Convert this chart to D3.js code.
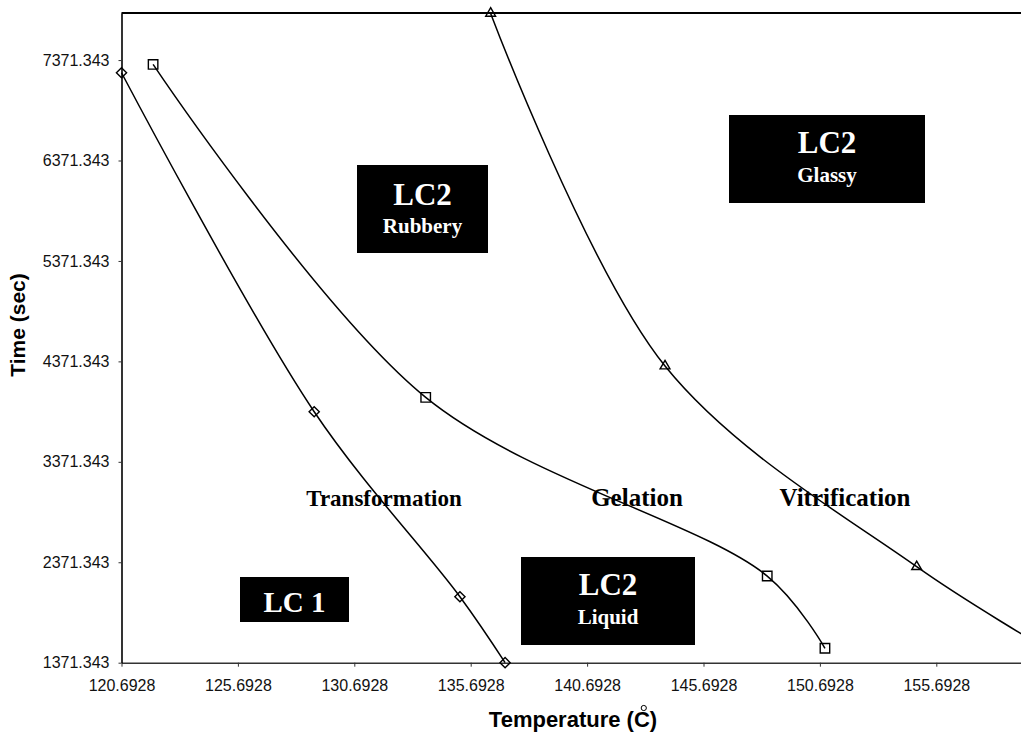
<!DOCTYPE html>
<html>
<head>
<meta charset="utf-8">
<script src="https://cdn.jsdelivr.net/npm/d3@7"></script>
<style>
  html, body { margin: 0; padding: 0; background: #fff; overflow: hidden; }
  svg { display: block; }
</style>
</head>
<body>
<svg id="chart" width="1021" height="735"></svg>
<script>
// Axis tick values
const tempTicks = [120.6928, 125.6928, 130.6928, 135.6928, 140.6928, 145.6928, 150.6928, 155.6928];
const timeTicks = [1371.343, 2371.343, 3371.343, 4371.343, 5371.343, 6371.343, 7371.343];

// Transformation boundary (LC 1 -> LC2)
const transformationTemp = [120.6928, 128.97, 135.23, 137.17];
const transformationTime = [7245, 3870, 2028, 1371.343];

// Gelation boundary
const gelationTemp = [122.05, 133.76, 148.43, 150.91];
const gelationTime = [7328, 4013, 2234, 1515];

// Vitrification boundary
const vitrificationTemp = [136.55, 144.04, 154.85, 160.5];
const vitrificationTime = [7836, 4325, 2327, 1500];

// Region and curve labels
const regionBoxes = [
  { title: "LC2", sub: "Rubbery" },
  { title: "LC2", sub: "Glassy" },
  { title: "LC2", sub: "Liquid" },
  { title: "LC 1", sub: null }
];
const curveNames = ["Transformation", "Gelation", "Vitrification"];

const svg = d3.select("#chart");
const W = 1021, H = 735;
const plotLeft = 121.5, plotTop = 13, plotBottom = 662.7;

const x = d3.scaleLinear().domain([120.6928, 160.6928]).range([plotLeft, 1052.7]);
const y = d3.scaleLinear().domain([1371.343, 7840]).range([plotBottom, plotTop]);

const sansFont = "'Liberation Sans', Arial, Helvetica, sans-serif";
const serifFont = "'Liberation Serif', 'Times New Roman', Times, serif";

// Plot frame: top border
svg.append("line")
  .attr("x1", plotLeft).attr("x2", W)
  .attr("y1", plotTop).attr("y2", plotTop)
  .attr("stroke", "#000").attr("stroke-width", 2);

// Bottom axis
const xAxis = svg.append("g")
  .attr("transform", `translate(0,${plotBottom})`)
  .call(d3.axisBottom(x).tickValues(tempTicks).tickFormat(d3.format(".4f"))
    .tickSizeInner(4).tickSizeOuter(0).tickPadding(13));
xAxis.select(".domain").attr("stroke", "#333").attr("stroke-width", 1.6);
xAxis.selectAll(".tick line").attr("stroke", "#333");
xAxis.selectAll(".tick text")
  .attr("font-family", sansFont).attr("font-size", 16).attr("fill", "#111");

// Left axis
const yAxis = svg.append("g")
  .attr("transform", `translate(${plotLeft},0)`)
  .call(d3.axisLeft(y).tickValues(timeTicks).tickFormat(d3.format(".3f"))
    .tickSizeInner(3).tickSizeOuter(0).tickPadding(9));
yAxis.select(".domain").attr("stroke", "#000").attr("stroke-width", 1.6);
yAxis.selectAll(".tick line").attr("stroke", "#333");
yAxis.selectAll(".tick text")
  .attr("font-family", sansFont).attr("font-size", 16).attr("fill", "#111");

// Axis titles
svg.append("text")
  .attr("transform", `translate(25,${325}) rotate(-90)`)
  .attr("text-anchor", "middle")
  .attr("font-family", sansFont).attr("font-weight", "bold").attr("font-size", 21)
  .text("Time (sec)");

const xTitle = svg.append("text")
  .attr("x", 573).attr("y", 727)
  .attr("text-anchor", "middle")
  .attr("font-family", sansFont).attr("font-weight", "bold").attr("font-size", 22)
  .text("Temperature (C)");
// degree ring over the C
const tNode = xTitle.node();
const cIdx = tNode.textContent.indexOf("C");
const ext = tNode.getExtentOfChar(cIdx);
svg.append("circle")
  .attr("cx", ext.x + ext.width * 0.62).attr("cy", 708)
  .attr("r", 2.6).attr("fill", "none").attr("stroke", "#000").attr("stroke-width", 1);

// Boundary curves
const series = [
  { temp: transformationTemp, time: transformationTime, marker: "diamond" },
  { temp: gelationTemp, time: gelationTime, marker: "square" },
  { temp: vitrificationTemp, time: vitrificationTime, marker: "triangle" }
];

const line = d3.line()
  .x(d => x(d[0])).y(d => y(d[1]))
  .curve(d3.curveCatmullRom.alpha(0.5));

const symbols = {
  diamond: d3.symbol().type(d3.symbolSquare).size(52),
  square: d3.symbol().type(d3.symbolSquare).size(90),
  triangle: d3.symbol().type(d3.symbolTriangle).size(42)
};

series.forEach(s => {
  const pts = s.temp.map((t, i) => [t, s.time[i]]);
  svg.append("path")
    .attr("d", line(pts))
    .attr("fill", "none").attr("stroke", "#000").attr("stroke-width", 1.5);
  svg.selectAll(null).data(pts).enter().append("path")
    .attr("d", symbols[s.marker]())
    .attr("transform", d => `translate(${x(d[0])},${y(d[1])})` + (s.marker === "diamond" ? " rotate(45)" : ""))
    .attr("fill", "none").attr("stroke", "#000").attr("stroke-width", 1.4);
});

// Curve names
const curveLabelLayout = [
  { x: 384, y: 506, size: 23 },
  { x: 637, y: 506, size: 25 },
  { x: 845, y: 506, size: 25 }
];
curveNames.forEach((name, i) => {
  const P = curveLabelLayout[i];
  svg.append("text")
    .attr("x", P.x).attr("y", P.y)
    .attr("text-anchor", "middle")
    .attr("font-family", serifFont).attr("font-weight", "bold").attr("font-size", P.size)
    .attr("fill", "#000")
    .text(name);
});

// Region boxes
const boxLayout = [
  { x0: 357, y0: 165, x1: 488, y1: 253, titleY: 205, subY: 233, titleSize: 31 },
  { x0: 729, y0: 115, x1: 925, y1: 203, titleY: 153, subY: 182, titleSize: 31 },
  { x0: 521, y0: 557, x1: 695, y1: 645, titleY: 595, subY: 624, titleSize: 31 },
  { x0: 240, y0: 577, x1: 349, y1: 622, titleY: 612, subY: null, titleSize: 29 }
];
regionBoxes.forEach((b, i) => {
  const L = boxLayout[i];
  const cx = (L.x0 + L.x1) / 2;
  svg.append("rect")
    .attr("x", L.x0).attr("y", L.y0)
    .attr("width", L.x1 - L.x0).attr("height", L.y1 - L.y0)
    .attr("fill", "#000");
  svg.append("text")
    .attr("x", cx).attr("y", L.titleY)
    .attr("text-anchor", "middle")
    .attr("font-family", serifFont).attr("font-weight", "bold").attr("font-size", L.titleSize)
    .attr("fill", "#fff")
    .text(b.title);
  if (b.sub) {
    svg.append("text")
      .attr("x", cx).attr("y", L.subY)
      .attr("text-anchor", "middle")
      .attr("font-family", serifFont).attr("font-weight", "bold").attr("font-size", 21)
      .attr("fill", "#fff")
      .text(b.sub);
  }
});
</script>
</body>
</html>
